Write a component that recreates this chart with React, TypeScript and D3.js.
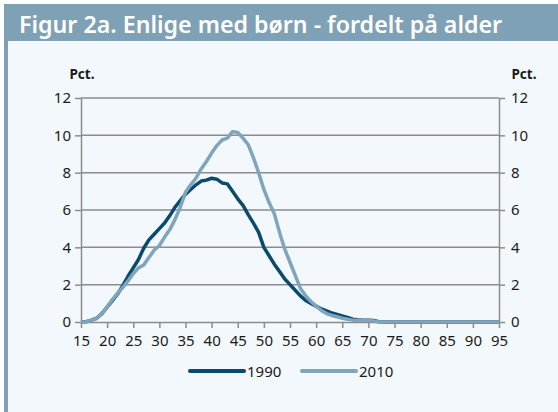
import * as d3 from 'd3';
import { useEffect, useRef } from 'react';

// alder 15..95
const ages = d3.range(15, 96);

const v1990 = [
  0, 0.02, 0.1, 0.2, 0.45, 0.8, 1.15, 1.5, 1.95, 2.45,
  2.9, 3.35, 3.95, 4.4, 4.7, 5.0, 5.3, 5.7, 6.15, 6.5,
  6.85, 7.1, 7.35, 7.55, 7.6, 7.7, 7.65, 7.45, 7.4, 7.0,
  6.6, 6.25, 5.75, 5.3, 4.8, 4.0, 3.55, 3.1, 2.7, 2.3,
  2.0, 1.7, 1.4, 1.15, 1.0, 0.85, 0.7, 0.6, 0.48, 0.4,
  0.32, 0.25, 0.15, 0.12, 0.1, 0.1, 0.08, 0.02, 0, 0,
  0, 0, 0, 0, 0, 0, 0, 0, 0, 0,
  0, 0, 0, 0, 0, 0, 0, 0, 0, 0, 0,
];

const v2010 = [
  0, 0, 0.1, 0.2, 0.45, 0.8, 1.2, 1.55, 1.85, 2.2,
  2.6, 2.9, 3.05, 3.45, 3.85, 4.1, 4.55, 4.95, 5.5, 6.15,
  6.95, 7.35, 7.7, 8.2, 8.6, 9.05, 9.45, 9.75, 9.85, 10.2,
  10.15, 9.85, 9.5, 8.8, 8.0, 7.1, 6.4, 5.8, 4.8, 3.9,
  3.2, 2.5, 1.8, 1.4, 1.1, 0.85, 0.62, 0.45, 0.35, 0.28,
  0.2, 0.15, 0.1, 0.1, 0.1, 0.1, 0.05, 0, 0, 0,
  0, 0, 0, 0, 0, 0, 0, 0, 0, 0,
  0, 0, 0, 0, 0, 0, 0, 0, 0, 0, 0,
];

const xTicks = d3.range(15, 96, 5);
const yTicks = [0, 2, 4, 6, 8, 10, 12];
const seriesNames = ['1990', '2010'];

const W = 558;
const H = 412;

const App = () => {
  const ref = useRef<SVGSVGElement>(null);

  useEffect(() => {
    const svg = d3.select(ref.current);
    svg.selectAll('*').remove();

    const font = '"Noto Sans", "Open Sans", sans-serif';
    const barColor = '#7fa1b6';
    const dark = '#0b4a6f';
    const light = '#7fa5bc';
    const grid = '#8c8c8c';

    // baggrund og ramme
    svg.append('rect').attr('width', W).attr('height', H).attr('fill', 'white');
    svg.append('rect').attr('x', 4).attr('y', 4).attr('width', W - 4).attr('height', H - 4).attr('fill', '#f3f8fc');
    svg.append('rect').attr('x', 4).attr('y', 4).attr('width', W - 4).attr('height', 37).attr('fill', barColor);
    svg.append('rect').attr('x', 4).attr('y', 4).attr('width', 4).attr('height', H - 4).attr('fill', barColor);

    svg.append('text')
      .attr('x', 19).attr('y', 33)
      .attr('fill', 'white')
      .style('font-family', font)
      .style('font-weight', 600)
      .style('font-size', '23.2px')
      .text('Figur 2a. Enlige med børn - fordelt på alder');

    const margin = { top: 98, right: 59, bottom: 90, left: 81 };

    const x = d3.scaleLinear()
      .domain([15, 95])
      .range([margin.left, W - margin.right]);

    const y = d3.scaleLinear()
      .domain([0, 12])
      .range([H - margin.bottom, margin.top]);

    // gitterlinjer
    svg.append('g')
      .selectAll('line')
      .data(yTicks.filter(t => t > 0))
      .enter().append('line')
      .attr('x1', x(15)).attr('x2', x(95))
      .attr('y1', d => y(d)).attr('y2', d => y(d))
      .attr('stroke', grid).attr('stroke-width', 1.5);

    const styleAxis = (g: any) => {
      g.select('.domain').attr('stroke', grid).attr('stroke-width', 1.5);
      g.selectAll('.tick line').attr('stroke', grid).attr('stroke-width', 1.5);
      g.selectAll('.tick text')
        .attr('fill', '#1a1a1a')
        .style('font-family', font)
        .style('font-size', '15px');
    };

    svg.append('g')
      .attr('transform', `translate(${x(15)},0)`)
      .call(d3.axisLeft(y).tickValues(yTicks).tickSize(6).tickSizeOuter(0).tickPadding(4))
      .call(styleAxis);

    svg.append('g')
      .attr('transform', `translate(${x(95)},0)`)
      .call(d3.axisRight(y).tickValues(yTicks).tickSize(6).tickSizeOuter(0).tickPadding(6))
      .call(styleAxis);

    svg.append('g')
      .attr('transform', `translate(0,${y(0)})`)
      .call(d3.axisBottom(x).tickValues(xTicks).tickSize(6).tickSizeOuter(0).tickPadding(7))
      .call(styleAxis);

    ['left', 'right'].forEach((side, k) => {
      svg.append('text')
        .attr('x', k === 0 ? 82 : 524).attr('y', 79)
        .attr('text-anchor', 'middle')
        .attr('fill', '#1a1a1a')
        .style('font-family', font).style('font-weight', 700).style('font-size', '13.5px')
        .text('Pct.');
    });

    const line = d3.line<number>()
      .x((d, i) => x(ages[i]))
      .y(d => y(d));

    [v1990, v2010].forEach((vals, k) => {
      svg.append('path')
        .datum(vals)
        .attr('d', line)
        .attr('fill', 'none')
        .attr('stroke', k === 0 ? dark : light)
        .attr('stroke-width', 3.5)
        .attr('stroke-linejoin', 'round');
    });

    // legende
    const legend = svg.append('g');
    seriesNames.forEach((name, k) => {
      const x0 = 190 + k * 112;
      legend.append('line')
        .attr('x1', x0).attr('x2', x0 + 54)
        .attr('y1', 371).attr('y2', 371)
        .attr('stroke', k === 0 ? dark : light)
        .attr('stroke-width', 4)
        .attr('stroke-linecap', 'round');
      legend.append('text')
        .attr('x', x0 + 57).attr('y', 376.5)
        .attr('fill', '#1a1a1a')
        .style('font-family', font).style('font-size', '15px')
        .text(name);
    });
  }, []);

  return (
    <svg ref={ref} width={W} height={H} style={{ position: 'absolute', left: 0, top: 0 }} />
  );
};

export default App;
